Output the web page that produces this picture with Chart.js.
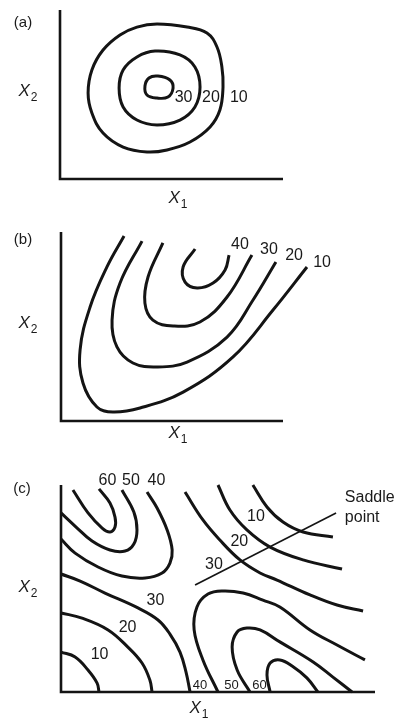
<!DOCTYPE html>
<html>
<head>
<meta charset="utf-8">
<script src="https://cdn.jsdelivr.net/npm/chart.js@4.4.1/dist/chart.umd.min.js"></script>
<style>
  html, body { margin: 0; padding: 0; background: #fff; }
  #wrap { position: relative; width: 397px; height: 719px; overflow: hidden;
          font-family: "Liberation Sans", Arial, sans-serif; color: #1a1a1a; }
  canvas { position: absolute; left: 0; }
  .t { position: absolute; transform: translate(-50%, -50%); line-height: 1; white-space: nowrap; }
  .tag { font-size: 15px; }
  .ax { font-size: 17px; font-style: italic; }
  .ax sub { font-size: 12px; font-style: normal; vertical-align: -5px; line-height: 0; margin-left: 1px; }
</style>
</head>
<body>
<div id="wrap">
  <canvas id="chart-a" width="397" height="210" style="top:0"></canvas>
  <canvas id="chart-b" width="397" height="240" style="top:210px"></canvas>
  <canvas id="chart-c" width="397" height="269" style="top:450px"></canvas>

  <div class="t tag" style="left:23px;top:21px">(a)</div>
  <div class="t ax" style="left:28px;top:90px">X<sub>2</sub></div>
  <div class="t ax" style="left:178px;top:197px">X<sub>1</sub></div>

  <div class="t tag" style="left:23px;top:238px">(b)</div>
  <div class="t ax" style="left:28px;top:322px">X<sub>2</sub></div>
  <div class="t ax" style="left:178px;top:432px">X<sub>1</sub></div>

  <div class="t tag" style="left:22px;top:487px">(c)</div>
  <div class="t ax" style="left:28px;top:586px">X<sub>2</sub></div>
  <div class="t ax" style="left:199px;top:707px">X<sub>1</sub></div>
</div>

<script>
// every panel uses X1 / X2 running 0..100 along its axes

// (a) closed contours round a maximum
const aRing10 = [[43.5,91.7],[57.0,89.9],[65.9,86.4],[70.4,78.1],[72.6,66.3],[73.1,54.4],[71.7,40.8],[67.3,30.8],[58.3,21.9],[48.0,17.2],[39.0,16.0],[28.3,18.9],[19.3,27.2],[14.3,39.1],[12.6,50.9],[14.3,64.5],[19.3,76.3],[26.9,85.2],[34.5,89.9]];
const aRing20 = [[42.6,75.7],[53.8,73.4],[60.5,66.3],[62.8,54.4],[60.5,42.6],[53.8,34.9],[43.5,32.0],[34.5,34.9],[28.3,42.6],[26.5,53.8],[28.3,64.5],[34.5,72.2]];
const aRing30 = [[43.9,60.9],[49.3,58.6],[50.7,53.8],[48.4,48.5],[43.5,47.9],[39.0,49.7],[38.1,55.0],[39.9,59.8]];
const aLevels = ['30', '20', '10'];
const aLevelAt = [[55.4,48],[67.7,48],[80.2,48]];

// (b) rising ridge
const bCurve10 = [[28.4,97.9],[20.7,81.5],[13.1,60.3],[8.6,37.6],[9.9,20.1],[16.2,7.4],[23.4,4.8],[35.6,6.9],[55.0,15.3],[77.5,33.9],[95.5,58.7],[110.8,81.5]];
const bCurve20 = [[36.5,95.2],[26.6,73.0],[23.0,53.4],[25.2,39.2],[32.4,30.7],[43.2,28.6],[56.8,31.2],[74.8,44.4],[86.5,64.0],[96.8,84.1]];
const bCurve30 = [[45.9,94.2],[39.2,76.2],[37.8,62.4],[41.4,53.4],[50.5,50.3],[62.6,52.4],[74.8,65.6],[86.0,87.8]];
const bCurve40 = [[60.4,91.0],[55.0,81.5],[55.9,73.5],[61.3,70.4],[68.5,73.0],[73.9,79.9],[75.7,87.8]];
const bLevels = ['40', '30', '20', '10'];
const bLevelAt = [[80.6,93.1],[93.7,90.5],[105.0,87.3],[117.6,83.6]];

// (c) saddle: two hills (top left, bottom right), two valleys
const cHill60 = [[3.8,97.6],[8.6,86.5],[13.1,79.2],[15.6,77.3],[17.2,79.7],[17.2,84.5],[15.6,91.3],[12.1,98.1]];
const cHill50 = [[0,86.5],[4.8,79.7],[9.9,72.9],[15.6,68.6],[20.4,68.1],[23.2,71.5],[24.2,78.3],[23.2,87.0],[19.4,97.6]];
const cHill40 = [[0,73.9],[4.5,67.1],[11.8,60.4],[19.4,56.0],[26.8,55.1],[32.2,57.5],[34.7,62.3],[35.4,68.6],[33.8,78.3],[30.6,88.9],[27.4,96.6]];
const cLow30 = [[0,57.0],[6.1,53.6],[14.0,47.8],[24.5,40.6],[30.9,34.8],[34.7,28.0],[37.9,19.3],[39.8,9.7],[41.1,0]];
const cLow20 = [[0,38.2],[6.7,35.7],[15.0,30.0],[21.3,21.7],[25.8,14.0],[28.3,5.8],[29.0,0]];
const cLow10 = [[0,19.3],[4.5,16.9],[8.6,10.6],[11.5,4.3],[12.1,0]];
const cHigh10 = [[61.1,100],[65.6,89.4],[70.7,82.1],[77.1,77.3],[86.6,74.9]];
const cHigh20 = [[50.0,100],[53.8,87.9],[59.2,78.3],[66.6,70.0],[77.1,63.8],[89.5,59.4]];
const cHigh30 = [[39.5,96.6],[45.2,83.1],[50.6,73.4],[57.0,63.8],[63.4,57.5],[68.8,54.1],[79.3,46.9],[87.9,42.0],[96.2,39.1]];
const cRise40 = [[50.0,0],[45.2,15.5],[42.4,30.0],[43.3,41.1],[46.8,47.3],[51.6,48.8],[58.0,47.8],[64.3,44.4],[69.7,41.1],[79.3,30.0],[87.9,22.7],[96.8,15.5]];
const cRise50 = [[60.2,0],[56.1,10.6],[54.5,21.7],[56.1,29.0],[59.2,30.9],[63.4,30.0],[69.7,24.2],[80.3,14.5],[86.6,7.2],[92.7,0]];
const cRise60 = [[66.6,0],[65.6,8.2],[66.6,14.0],[69.7,15.5],[73.6,12.6],[78.3,6.8],[81.8,0]];
const cSaddleLine = [[42.7,51.7],[87.6,86.5]];
const cTopLevels = ['60', '50', '40'];
const cTopAt = [[14.8,101.9],[22.3,101.9],[30.4,101.9]];
const cLeftLevels = ['30', '20', '10'];
const cLeftAt = [[30.1,44.0],[21.2,30.9],[12.3,17.9]];
const cRightLevels = ['10', '20', '30'];
const cRightAt = [[62.1,84.5],[56.8,72.9],[48.7,61.6]];
const cFootLevels = ['40', '50', '60'];
const cFootAt = [[44.3,3.4],[54.3,3.4],[63.2,3.4]];
const cNote = ['Saddle', 'point'];
const cNoteAt = [[90.4,93.7],[90.4,84.1]];

const axesFrame = [[0,100],[0,0],[100,0]];

const INK = '#141414';
const FONT = '"Liberation Sans", Arial, sans-serif';

function lineSet(points, extra) {
  return Object.assign({
    data: points.map(([x, y]) => ({ x, y })),
    showLine: true,
    borderColor: INK,
    borderWidth: 3,
    pointRadius: 0,
    tension: 0.4,
    fill: false,
    clip: false
  }, extra || {});
}

// closed contour: repeat the first three points and hide the two
// end segments whose bezier handles have only one neighbour
function ringSet(points) {
  const n = points.length;
  const pts = points.concat([points[0], points[1], points[2]]);
  return lineSet(pts, {
    segment: {
      borderColor: ctx => (ctx.p0DataIndex === 0 || ctx.p0DataIndex === n + 1) ? 'rgba(0,0,0,0)' : INK
    }
  });
}

function frameSet() {
  return lineSet(axesFrame, { tension: 0, borderWidth: 2.6, borderJoinStyle: 'miter' });
}

function textItems(texts, anchors, size, align) {
  return texts.map((text, i) => ({ text, x: anchors[i][0], y: anchors[i][1], size, align: align || 'center' }));
}

function textPlugin(items) {
  return {
    id: 'levelText',
    afterDatasetsDraw(chart) {
      const { ctx, scales: { x, y } } = chart;
      ctx.save();
      ctx.fillStyle = '#1a1a1a';
      ctx.textBaseline = 'middle';
      items.forEach(it => {
        ctx.font = it.size + 'px ' + FONT;
        ctx.textAlign = it.align;
        ctx.fillText(it.text, x.getPixelForValue(it.x), y.getPixelForValue(it.y));
      });
      ctx.restore();
    }
  };
}

function makeChart(id, datasets, padding, items) {
  return new Chart(document.getElementById(id), {
    type: 'scatter',
    data: { datasets },
    options: {
      responsive: false,
      animation: false,
      devicePixelRatio: 1,
      events: [],
      layout: { padding },
      elements: { line: { capBezierPoints: false } },
      plugins: { legend: { display: false }, tooltip: { enabled: false } },
      scales: {
        x: { type: 'linear', display: false, min: 0, max: 100 },
        y: { type: 'linear', display: false, min: 0, max: 100 }
      }
    },
    plugins: [textPlugin(items)]
  });
}

makeChart('chart-a',
  [frameSet(), ringSet(aRing10), ringSet(aRing20), ringSet(aRing30)],
  { left: 60, top: 10, right: 114, bottom: 31 },
  textItems(aLevels, aLevelAt, 16));

makeChart('chart-b',
  [frameSet(), lineSet(bCurve10), lineSet(bCurve20), lineSet(bCurve30), lineSet(bCurve40)],
  { left: 61, top: 22, right: 114, bottom: 29 },
  textItems(bLevels, bLevelAt, 16));

makeChart('chart-c',
  [frameSet(),
   lineSet(cHill60), lineSet(cHill50), lineSet(cHill40),
   lineSet(cLow30), lineSet(cLow20), lineSet(cLow10),
   lineSet(cHigh10), lineSet(cHigh20), lineSet(cHigh30),
   lineSet(cRise40), lineSet(cRise50), lineSet(cRise60),
   lineSet(cSaddleLine, { tension: 0, borderWidth: 1.6 })],
  { left: 61, top: 35, right: 22, bottom: 27 },
  [].concat(
    textItems(cTopLevels, cTopAt, 16),
    textItems(cLeftLevels, cLeftAt, 16),
    textItems(cRightLevels, cRightAt, 16),
    textItems(cFootLevels, cFootAt, 13),
    textItems(cNote, cNoteAt, 16, 'left')
  ));
</script>
</body>
</html>
